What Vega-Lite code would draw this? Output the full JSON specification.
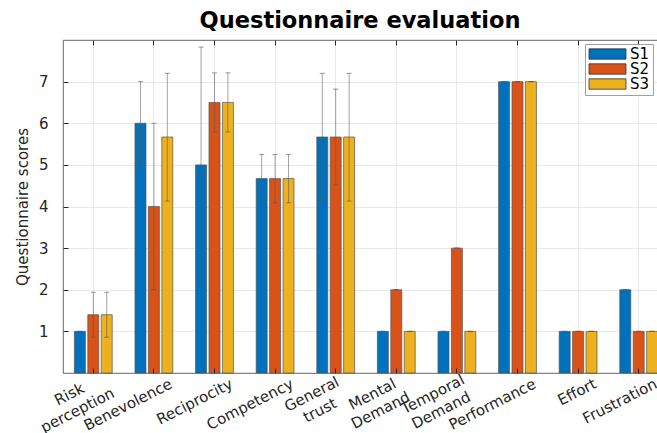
{
  "$schema": "https://vega.github.io/schema/vega-lite/v6.json",
  "width": 606,
  "height": 333,
  "autosize": {"type": "none"},
  "padding": {"left": 63, "top": 40, "right": 0, "bottom": 60},
  "config": {
    "font": "DejaVu Sans",
    "view": {"stroke": "#404040", "strokeWidth": 0.8},
    "axis": {"labelFont": "DejaVu Sans", "titleFont": "DejaVu Sans", "labelColor": "#262626", "titleColor": "#262626", "tickColor": "#262626", "domain": false, "gridColor": "#e3e3e3", "gridWidth": 0.8}
  },
  "title": {"text": "Questionnaire evaluation", "fontSize": 22.5, "fontWeight": "bold", "font": "DejaVu Sans", "color": "#000000", "anchor": "middle", "offset": 7, "dx": -6},
  "data": {"values": [
    {"cat": "Risk\nperception", "s": "S1", "v": 1, "lo": 1, "hi": 1},
    {"cat": "Risk\nperception", "s": "S2", "v": 1.4, "lo": 0.86, "hi": 1.94},
    {"cat": "Risk\nperception", "s": "S3", "v": 1.4, "lo": 0.86, "hi": 1.94},
    {"cat": "Benevolence", "s": "S1", "v": 6, "lo": 5, "hi": 7},
    {"cat": "Benevolence", "s": "S2", "v": 4, "lo": 2, "hi": 6},
    {"cat": "Benevolence", "s": "S3", "v": 5.67, "lo": 4.13, "hi": 7.2},
    {"cat": "Reciprocity", "s": "S1", "v": 5, "lo": 2.17, "hi": 7.83},
    {"cat": "Reciprocity", "s": "S2", "v": 6.5, "lo": 5.79, "hi": 7.21},
    {"cat": "Reciprocity", "s": "S3", "v": 6.5, "lo": 5.79, "hi": 7.21},
    {"cat": "Competency", "s": "S1", "v": 4.67, "lo": 4.09, "hi": 5.25},
    {"cat": "Competency", "s": "S2", "v": 4.67, "lo": 4.09, "hi": 5.25},
    {"cat": "Competency", "s": "S3", "v": 4.67, "lo": 4.09, "hi": 5.25},
    {"cat": "General\ntrust", "s": "S1", "v": 5.67, "lo": 4.13, "hi": 7.2},
    {"cat": "General\ntrust", "s": "S2", "v": 5.67, "lo": 4.52, "hi": 6.82},
    {"cat": "General\ntrust", "s": "S3", "v": 5.67, "lo": 4.13, "hi": 7.2},
    {"cat": "Mental\nDemand", "s": "S1", "v": 1, "lo": 1, "hi": 1},
    {"cat": "Mental\nDemand", "s": "S2", "v": 2, "lo": 2, "hi": 2},
    {"cat": "Mental\nDemand", "s": "S3", "v": 1, "lo": 1, "hi": 1},
    {"cat": "Temporal\nDemand", "s": "S1", "v": 1, "lo": 1, "hi": 1},
    {"cat": "Temporal\nDemand", "s": "S2", "v": 3, "lo": 3, "hi": 3},
    {"cat": "Temporal\nDemand", "s": "S3", "v": 1, "lo": 1, "hi": 1},
    {"cat": "Performance", "s": "S1", "v": 7, "lo": 7, "hi": 7},
    {"cat": "Performance", "s": "S2", "v": 7, "lo": 7, "hi": 7},
    {"cat": "Performance", "s": "S3", "v": 7, "lo": 7, "hi": 7},
    {"cat": "Effort", "s": "S1", "v": 1, "lo": 1, "hi": 1},
    {"cat": "Effort", "s": "S2", "v": 1, "lo": 1, "hi": 1},
    {"cat": "Effort", "s": "S3", "v": 1, "lo": 1, "hi": 1},
    {"cat": "Frustration", "s": "S1", "v": 2, "lo": 2, "hi": 2},
    {"cat": "Frustration", "s": "S2", "v": 1, "lo": 1, "hi": 1},
    {"cat": "Frustration", "s": "S3", "v": 1, "lo": 1, "hi": 1}
  ]},
  "resolve": {"axis": {"x": "independent"}},
  "layer": [
    {
      "mark": {"type": "bar", "stroke": "#555555", "strokeWidth": 0.7},
      "encoding": {
        "x": {"field": "cat", "type": "nominal", "sort": null,
              "scale": {"paddingInner": 0.34, "paddingOuter": 0.17},
              "axis": {"orient": "bottom", "title": null, "labelAngle": -27, "labelAlign": "right", "labelBaseline": "top", "labelFontSize": 15, "labelExpr": "indexof(datum.label, '\\n') >= 0 ? '' : datum.label", "labelPadding": 3, "labelOffset": 14, "bandPosition": 0.5, "grid": true, "ticks": false, "labelLimit": 300, "labelOverlap": false}},
        "xOffset": {"field": "s", "type": "nominal", "scale": {"paddingInner": 0.18, "paddingOuter": 0.08}},
        "y": {"field": "v", "type": "quantitative",
              "scale": {"domain": [0, 8], "nice": false, "zero": true},
              "axis": {"title": "Questionnaire scores", "titleFontSize": 15, "titleFontWeight": "normal", "titlePadding": 8, "values": [1, 2, 3, 4, 5, 6, 7], "labelFontSize": 15, "tickSize": -5, "labelPadding": 20, "grid": true}},
        "color": {"field": "s", "type": "nominal",
                  "scale": {"domain": ["S1", "S2", "S3"], "range": ["#0072BD", "#D95319", "#EDB120"]},
                  "legend": {"title": null, "orient": "none", "legendX": 522, "legendY": 4, "padding": 3, "strokeColor": "#a0a0a0", "fillColor": "#ffffff", "labelFontSize": 15, "labelColor": "#000000", "labelFont": "DejaVu Sans", "symbolType": "M-3,-0.84H3V0.84H-3Z", "symbolSize": 152, "symbolOffset": 12, "symbolStrokeColor": "#333333", "symbolStrokeWidth": 0.8, "symbolOpacity": 1, "rowPadding": 0, "clipHeight": 14, "labelOffset": 15}}
      }
    },
    {
      "mark": {"type": "rule", "color": "#555555", "opacity": 0.55, "strokeWidth": 1},
      "encoding": {
        "x": {"field": "cat", "type": "nominal", "sort": null,
              "axis": {"orient": "top", "title": null, "labels": false, "grid": false, "tickSize": -5, "bandPosition": 0.5}},
        "xOffset": {"field": "s", "type": "nominal"},
        "y": {"field": "lo", "type": "quantitative"},
        "y2": {"field": "hi"}
      }
    },
    {
      "mark": {"type": "tick", "color": "#555555", "opacity": 0.6, "size": 5, "thickness": 1},
      "encoding": {
        "x": {"field": "cat", "type": "nominal", "sort": null,
              "axis": {"orient": "bottom", "title": null, "labels": false, "grid": false, "tickSize": -5, "bandPosition": 0.5, "zindex": 2}},
        "xOffset": {"field": "s", "type": "nominal"},
        "y": {"field": "hi", "type": "quantitative"}
      }
    },
    {
      "mark": {"type": "tick", "color": "#555555", "opacity": 0.6, "size": 5, "thickness": 1},
      "encoding": {
        "x": {"field": "cat", "type": "nominal", "sort": null, "axis": null},
        "xOffset": {"field": "s", "type": "nominal"},
        "y": {"field": "lo", "type": "quantitative"}
      }
    },
    {
      "transform": [{"filter": "datum.s == 'S2' && indexof(datum.cat, '\\n') >= 0"}],
      "mark": {"type": "text", "align": "center", "baseline": "top", "angle": -27, "lineBreak": "\n", "lineHeight": 18, "fontSize": 15, "font": "DejaVu Sans", "color": "#262626", "dx": -31, "dy": 1},
      "encoding": {
        "x": {"field": "cat", "type": "nominal", "sort": null, "axis": null},
        "y": {"datum": 0, "type": "quantitative"},
        "text": {"field": "cat"}
      }
    }
  ]
}
